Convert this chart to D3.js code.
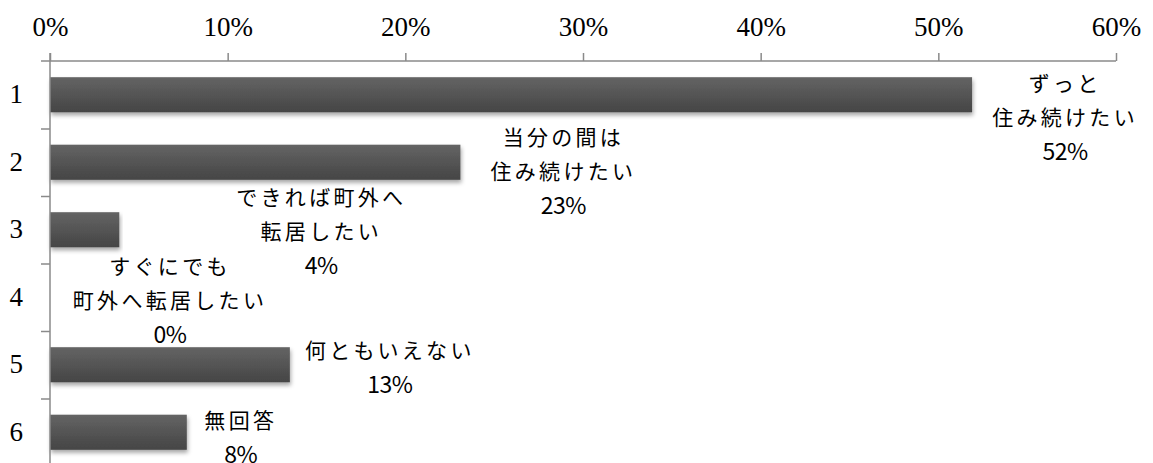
<!DOCTYPE html>
<html lang="ja">
  <head>
    <meta charset="UTF-8" />
    <title>居住意向</title>
    <script src="https://d3js.org/d3.v7.min.js"></script>
    <style>
      body {
        margin: 0;
        background: #ffffff;
      }
      .axis path,
      .axis line {
        stroke: #8a8a8a;
        stroke-width: 1.5px;
      }
      .ax-txt {
        font-family: "Liberation Serif", "DejaVu Serif", serif;
        font-size: 27px;
        fill: #000;
      }
      .lbl {
        font-family: "Noto Sans CJK JP", sans-serif;
        font-size: 21px;
        letter-spacing: 3.3px;
        fill: #000;
      }
      .pct {
        font-size: 23px;
        letter-spacing: -0.5px;
      }
    </style>
  </head>
  <body>
    <svg id="chart" width="1153" height="463"></svg>
    <script>
      // data
      let categories = ["1", "2", "3", "4", "5", "6"];
      let values = [51.9, 23.1, 3.9, 0, 13.5, 7.7];
      let labelNames = [
        ["ずっと", "住み続けたい"],
        ["当分の間は", "住み続けたい"],
        ["できれば町外へ", "転居したい"],
        ["すぐにでも", "町外へ転居したい"],
        ["何ともいえない"],
        ["無回答"],
      ];
      let labelPct = ["52%", "23%", "4%", "0%", "13%", "8%"];
      let xTicks = [0, 10, 20, 30, 40, 50, 60];

      // labels were dragged around by hand in the original, nudge from bar end / band centre
      let nudgeX = [93, 103, 202, 120, 100, 54];
      let nudgeY = [23, 9, 2, 3, 3, 5];

      let svg = d3.select("#chart");

      let x = d3.scaleLinear().domain([0, 60]).range([50, 1116]);
      let y = d3
        .scaleBand()
        .domain(categories)
        .range([61, 466])
        .paddingInner(0.48)
        .paddingOuter(0.24);
      // band boundaries for the left tick marks
      let yEdge = d3.scaleLinear().domain([0, 6]).range([61, 466]);

      let defs = svg.append("defs");
      let grad = defs
        .append("linearGradient")
        .attr("id", "barGrad")
        .attr("x1", 0)
        .attr("y1", 0)
        .attr("x2", 0)
        .attr("y2", 1);
      grad.append("stop").attr("offset", "0%").attr("stop-color", "#646464");
      grad.append("stop").attr("offset", "100%").attr("stop-color", "#454545");

      let shadow = defs
        .append("filter")
        .attr("id", "shadow")
        .attr("x", "-5%")
        .attr("y", "-20%")
        .attr("width", "110%")
        .attr("height", "160%");
      shadow
        .append("feDropShadow")
        .attr("dx", 1)
        .attr("dy", 3)
        .attr("stdDeviation", 2)
        .attr("flood-color", "#000")
        .attr("flood-opacity", 0.35);

      // bars
      svg
        .append("g")
        .selectAll("rect")
        .data(categories.filter((c, i) => values[i] > 0))
        .enter()
        .append("rect")
        .attr("x", x(0))
        .attr("y", (c) => y(c))
        .attr("width", (c) => x(values[categories.indexOf(c)]) - x(0))
        .attr("height", y.bandwidth())
        .attr("fill", "url(#barGrad)")
        .attr("filter", "url(#shadow)");

      function axisFont(g) {
        g.selectAll("text").attr("class", "ax-txt").attr("fill", null);
      }

      // top axis
      svg
        .append("g")
        .attr("class", "axis")
        .attr("transform", `translate(0,${yEdge(0)})`)
        .call(
          d3
            .axisTop(x)
            .tickValues(xTicks)
            .tickSize(8)
            .tickSizeOuter(0)
            .tickPadding(17)
            .tickFormat((d) => d + "%")
        )
        .call((g) => g.select(".domain").attr("d", `M${x(0) - 9},0H${x(60)}`))
        .call(axisFont);

      // left axis line + ticks at band edges
      svg
        .append("g")
        .attr("class", "axis")
        .attr("transform", `translate(${x(0)},0)`)
        .call(
          d3
            .axisLeft(yEdge)
            .tickValues(d3.range(1, 7))
            .tickSize(9)
            .tickSizeOuter(0)
            .tickFormat("")
        )
        .call((g) =>
          g.select(".domain").attr("d", `M0,${yEdge(0) - 8}V${yEdge(6)}`)
        );

      // category numbers
      svg
        .append("g")
        .attr("class", "axis")
        .attr("transform", `translate(${x(0)},0)`)
        .call(d3.axisLeft(y).tickSize(0).tickPadding(27))
        .call((g) => g.select(".domain").remove())
        .call(axisFont);

      // data labels
      let lineH = 34;
      let lbls = svg.append("g");
      categories.forEach(function (c, i) {
        let lines = labelNames[i].concat([labelPct[i]]);
        let cx = x(values[i]) + nudgeX[i];
        let cy = y(c) + y.bandwidth() / 2 + nudgeY[i];
        let top = cy - ((lines.length - 1) * lineH) / 2;
        lines.forEach(function (t, j) {
          lbls
            .append("text")
            .attr("class", j == lines.length - 1 ? "lbl pct" : "lbl")
            .attr("x", cx)
            .attr("y", top + j * lineH)
            .attr("dy", "0.36em")
            .attr("text-anchor", "middle")
            .text(t);
        });
      });
    </script>
  </body>
</html>
